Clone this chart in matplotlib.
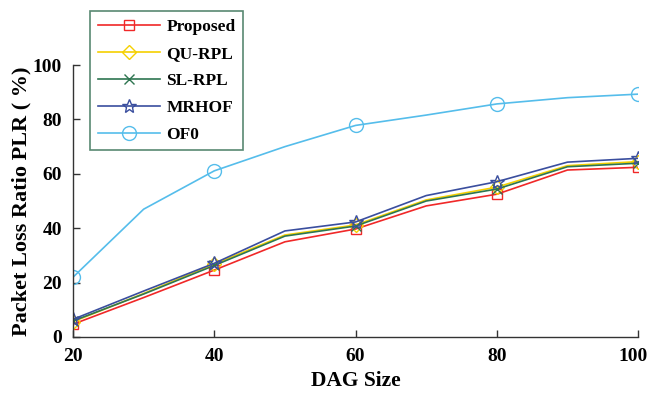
import matplotlib
matplotlib.use("Agg")
import matplotlib.pyplot as plt
import matplotlib.transforms as mtransforms

dag_size = [20, 30, 40, 50, 60, 70, 80, 90, 100]
proposed = [4.7, 14.5, 24.6, 35.0, 39.7, 48.2, 52.5, 61.4, 62.4]
qu_rpl   = [5.6, 16.0, 26.8, 37.5, 41.2, 50.4, 55.1, 63.0, 64.5]
sl_rpl   = [5.9, 15.8, 26.3, 37.1, 40.8, 50.0, 54.4, 62.6, 63.9]
mrhof    = [6.5, 16.9, 27.1, 39.0, 42.3, 52.0, 57.1, 64.3, 65.7]
of0      = [22.0, 47.0, 61.1, 70.0, 77.8, 81.6, 85.7, 88.0, 89.3]
xticks = [20, 40, 60, 80, 100]
yticks = [0, 20, 40, 60, 80, 100]

plt.rcParams['font.family'] = ['Liberation Serif', 'DejaVu Serif']
plt.rcParams['font.weight'] = 'bold'

fig = plt.figure(figsize=(6.48, 3.93), dpi=100)
ax = fig.add_axes([0.1127, 0.1425, 0.872, 0.692])

series = [
    ("Proposed", proposed, '#F02828', 's'),
    ("QU-RPL", qu_rpl, '#F5D000', 'D'),
    ("SL-RPL", sl_rpl, '#2E7550', 'x'),
    ("MRHOF", mrhof, '#3A4E9E', '*'),
    ("OF0", of0, '#55BDEB', 'o'),
]
for name, vals, col, mk in series:
    ms = 10 if mk in ('o', '*') else 7
    ax.plot(dag_size, vals, color=col, lw=1.2, marker=mk, markevery=2,
            markersize=ms, markerfacecolor='none', markeredgecolor=col,
            markeredgewidth=1.0, label=name)

ax.set_xlim(20, 100)
ax.set_ylim(0, 100)
ax.set_xticks(xticks)
ax.set_yticks(yticks)
ax.spines['top'].set_visible(False)
ax.spines['right'].set_visible(False)
for s in ('left', 'bottom'):
    ax.spines[s].set_color('#333333')
    ax.spines[s].set_linewidth(1.0)
ax.tick_params(direction='in', length=5, width=1, colors='#333333',
               labelsize=14, labelcolor='black', pad=8)
for lab in ax.get_xticklabels() + ax.get_yticklabels():
    lab.set_fontweight('bold')
# shift last x tick label slightly left so it stays inside the figure
last = ax.get_xticklabels()[-1]
last.set_transform(last.get_transform() +
                   mtransforms.ScaledTranslation(-5/100, 0, fig.dpi_scale_trans))

ax.set_xlabel('DAG Size', fontsize=15.5, fontweight='bold', labelpad=4)
ax.set_ylabel('Packet Loss Ratio PLR ( %)', fontsize=16, fontweight='bold', labelpad=1)

leg = ax.legend(loc='upper left', bbox_to_anchor=(90/648, 1 - 11/393),
                bbox_transform=fig.transFigure, frameon=True, fancybox=False,
                fontsize=12.5, handlelength=3.6, borderpad=0.45,
                labelspacing=0.62, handletextpad=0.35, borderaxespad=0)
leg.get_frame().set_edgecolor('#2F6B4F')
leg.get_frame().set_linewidth(1.2)
for t in leg.get_texts():
    t.set_fontweight('bold')

fig.savefig('out.png', dpi=100)
